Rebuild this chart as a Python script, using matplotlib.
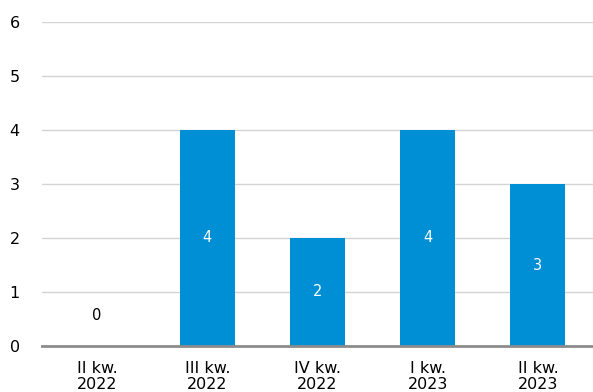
import matplotlib.pyplot as plt

# Quarterly counts
quarters = ['II kw.\n2022', 'III kw.\n2022', 'IV kw.\n2022', 'I kw.\n2023', 'II kw.\n2023']
counts = [0, 4, 2, 4, 3]

BAR_COLOR = '#008FD5'

plt.rcParams['font.family'] = ['DejaVu Sans']

fig = plt.figure(figsize=(5.93, 3.92), dpi=100)
ax = fig.add_axes([42 / 593, 46 / 392, 551 / 593, 324 / 392])

x = range(len(quarters))
bars = ax.bar(x, counts, width=0.5, color=BAR_COLOR, zorder=3)

# value labels: centred inside the bar, or above the axis when empty
for rect, val in zip(bars, counts):
    cx = rect.get_x() + rect.get_width() / 2
    if val > 0:
        ax.text(cx, val / 2, str(val), ha='center', va='center',
                color='white', fontsize=10.5, zorder=4)
    else:
        ax.annotate(str(val), (cx, 0), xytext=(0, 22), textcoords='offset points',
                    ha='center', va='center', color='black', fontsize=10.5)

ax.set_xlim(-0.5, len(quarters) - 0.5)
ax.set_ylim(0, 6)
ax.set_yticks(range(0, 7))
ax.set_xticks(list(x))
ax.set_xticklabels(quarters, fontsize=11.5, linespacing=1.05)
ax.tick_params(axis='y', labelsize=11.5, length=0, pad=16)
ax.tick_params(axis='x', length=0, pad=11)

ax.yaxis.grid(True, color='#D3D3D3', linewidth=1, zorder=0)
for side in ['top', 'right', 'left']:
    ax.spines[side].set_visible(False)
ax.spines['bottom'].set_color('#8C8C8C')
ax.spines['bottom'].set_linewidth(2)
ax.spines['bottom'].set_zorder(5)

fig.savefig('out.png', dpi=100)
